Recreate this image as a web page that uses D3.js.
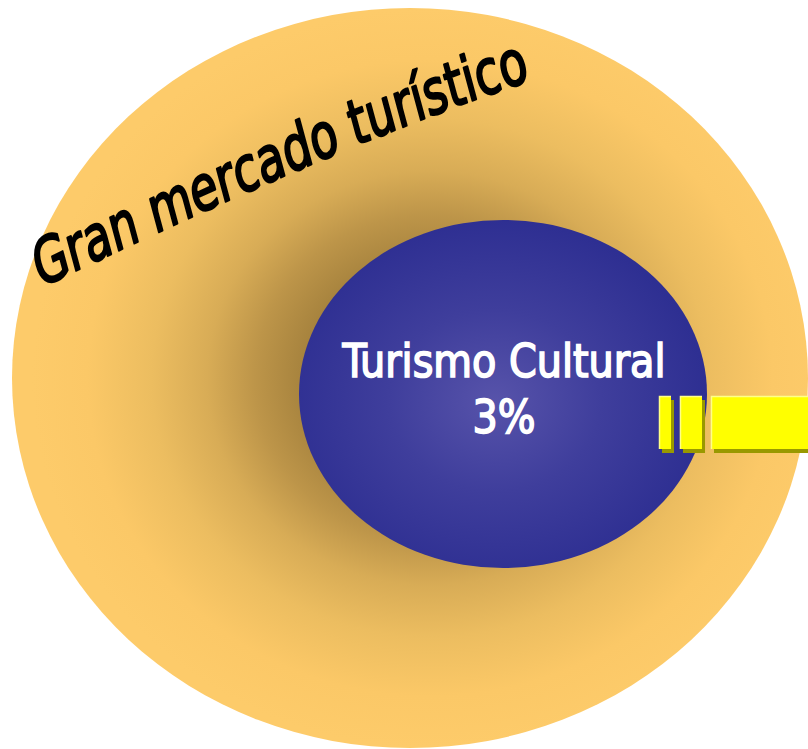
<!DOCTYPE html>
<html>
<head>
<meta charset="utf-8">
<script src="https://cdn.jsdelivr.net/npm/d3@7"></script>
<style>
  body { margin: 0; background: #fff; }
</style>
</head>
<body>
<div class="chart"></div>
<script>
// labels and shares of the market
let labels = ['Gran mercado turístico', 'Turismo Cultural'];
let shares = [100, 3];
let shareLabels = ['', '3%'];

let width = 808;
let height = 749;

let svg = d3.select('.chart')
  .append('svg')
    .attr('width', width)
    .attr('height', height);

let defs = svg.append('defs');

// outer market: orange with a dark halo round the inner one
let gOuter = defs.append('radialGradient')
  .attr('id', 'gOuter')
  .attr('cx', 0.525).attr('cy', 0.5).attr('r', 0.5);
[[0, '#7a5b28'], [0.3, '#a3803c'], [0.44, '#bd9549'], [0.56, '#d8ac56'], [0.7, '#ecbd60'], [0.86, '#fbc867'], [1, '#fdcb6a']]
  .forEach(s => gOuter.append('stop').attr('offset', s[0]).attr('stop-color', s[1]));

let gInner = defs.append('radialGradient')
  .attr('id', 'gInner')
  .attr('cx', 0.48).attr('cy', 0.52).attr('r', 0.52);
[[0, '#5753aa'], [0.5, '#3f3e9c'], [1, '#2e2f92']]
  .forEach(s => gInner.append('stop').attr('offset', s[0]).attr('stop-color', s[1]));

let fills = d3.scaleOrdinal().domain(labels).range(['url(#gOuter)', 'url(#gInner)']);

// ellipse layout, largest first
let shapes = [
  {cx: 410, cy: 378, rx: 398, ry: 370},
  {cx: 503, cy: 394, rx: 204, ry: 174}
];

svg.selectAll('ellipse.market')
  .data(labels)
  .enter()
  .append('ellipse')
    .attr('class', 'market')
    .attr('cx', (d, i) => shapes[i].cx)
    .attr('cy', (d, i) => shapes[i].cy)
    .attr('rx', (d, i) => shapes[i].rx)
    .attr('ry', (d, i) => shapes[i].ry)
    .style('fill', d => fills(d));

// yellow arrow pieces coming out of the inner ellipse
let barX = d3.scaleLinear().domain([0, 1]).range([659, 811]);
let pieces = [[0, 0.079], [0.138, 0.283], [0.342, 1]];
let barTop = 396, barH = 53;

let bars = svg.selectAll('g.bar')
  .data(pieces)
  .enter()
  .append('g')
    .attr('class', 'bar');

bars.append('rect')
  .attr('x', d => barX(d[0]) + 3)
  .attr('y', barTop + 4)
  .attr('width', d => barX(d[1]) - barX(d[0]))
  .attr('height', barH)
  .style('fill', '#999900');

bars.append('rect')
  .attr('x', d => barX(d[0]))
  .attr('y', barTop)
  .attr('width', d => barX(d[1]) - barX(d[0]))
  .attr('height', barH)
  .style('fill', '#ffff00');

bars.append('path')
  .attr('d', d => `M${barX(d[0]) + 0.5},${barTop + barH} V${barTop + 0.5} H${barX(d[1])}`)
  .style('fill', 'none')
  .style('stroke', '#ffff88')
  .style('stroke-width', 1.5);

// title bent along the top of the big ellipse, letters leaning back
let guide = svg.append('path')
  .attr('d', 'M40,288 Q334,146 531,80')
  .style('fill', 'none');
let L = guide.node().getTotalLength();

let fontSize = 62;
let probe = svg.append('text')
  .style('font-family', '"DejaVu Sans", sans-serif')
  .style('font-size', fontSize + 'px');
let chars = Array.from(labels[0]);
let widths = chars.map(c => {
  probe.text(c === ' ' ? '\u00a0' : c);
  return probe.node().getComputedTextLength();
});
probe.remove();

let k = L / d3.sum(widths);
let lean = [0.26, 0.966];
let pos = 0;
let title = svg.append('g').attr('class', 'title');
chars.forEach((c, i) => {
  let w = widths[i] * k;
  let p = guide.node().getPointAtLength(pos);
  let q = guide.node().getPointAtLength(Math.min(L, pos + w));
  let ang = Math.atan2(q.y - p.y, q.x - p.x);
  if (c !== ' ') {
    title.append('text')
      .attr('transform', `matrix(${k * Math.cos(ang)},${k * Math.sin(ang)},${lean[0]},${lean[1]},${p.x},${p.y})`)
      .style('font-family', '"DejaVu Sans", sans-serif')
      .style('font-size', fontSize + 'px')
      .style('fill', '#000')
      .style('stroke', '#000')
      .style('stroke-width', 2.4)
      .style('stroke-linejoin', 'round')
      .text(c);
  }
  pos += w;
});

// inner label
let inner = shapes[1];
let innerText = [labels[1], shareLabels[1]];
let innerY = [377, 433];
let innerLen = [323, 63];

svg.selectAll('text.inner')
  .data(innerText)
  .enter()
  .append('text')
    .attr('class', 'inner')
    .attr('x', inner.cx + 1)
    .attr('y', (d, i) => innerY[i])
    .attr('text-anchor', 'middle')
    .attr('textLength', (d, i) => innerLen[i])
    .attr('lengthAdjust', 'spacingAndGlyphs')
    .style('font-family', '"DejaVu Sans Condensed", "DejaVu Sans", sans-serif')
    .style('font-size', '47px')
    .style('fill', '#fff')
    .style('stroke', '#fff')
    .style('stroke-width', 1.6)
    .text(d => d);
</script>
</body>
</html>
